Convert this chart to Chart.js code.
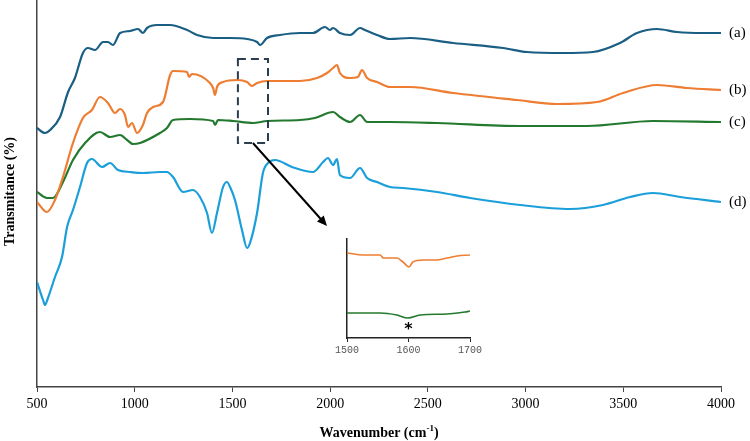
<!DOCTYPE html>
<html>
<head>
<meta charset="utf-8">
<script src="https://cdn.jsdelivr.net/npm/chart.js@4.4.1/dist/chart.umd.min.js"></script>
<style>
  html, body { margin: 0; padding: 0; background: #fff; }
  #wrap { position: relative; width: 750px; height: 441px; }
  #main { position: absolute; left: 0; top: 0; }
  #inset { position: absolute; left: 330px; top: 235px; }
</style>
</head>
<body>
<div id="wrap">
  <canvas id="main" width="750" height="441"></canvas>
  <canvas id="inset" width="160" height="125"></canvas>
</div>
<script>
// ---- Data (wavenumber in cm-1, transmittance in arbitrary offset units) ----
const seriesLabels = ['(a)', '(b)', '(c)', '(d)'];
const xTicks = [500, 1000, 1500, 2000, 2500, 3000, 3500, 4000];

const waveA = [500,541,567,618,659,694,735,761,797,838,863,889,925,976,1017,1042,1063,1114,1181,1268,1319,1401,1488,1575,1626,1641,1677,1743,1846,1912,1974,1999,2015,2050,2102,2153,2178,2240,2306,2409,2629,2885,3007,3192,3345,3483,3570,3673,3775,3908,4000];
const transA = [259,254,257,270,295,309,334,339,337,345,345,342,354,356,358,354,359,362,362,357,352,349,349,348,345,342,349,352,354,354,360,357,359,354,352,359,357,352,348,349,344,339,335,334,335,344,354,358,355,354,354];

const waveB = [500,551,592,633,684,735,781,822,863,899,925,950,966,986,1012,1042,1063,1094,1145,1181,1196,1268,1278,1293,1385,1401,1411,1421,1452,1524,1575,1600,1626,1677,1846,1933,1984,2015,2035,2050,2102,2142,2163,2189,2240,2306,2409,2629,2956,3161,3366,3499,3673,3826,4000];
const transB = [185,175,187,210,244,269,277,290,284,274,278,272,260,264,254,262,274,280,285,312,316,315,310,313,304,299,292,300,305,307,305,301,304,306,306,309,314,319,322,314,309,310,317,309,305,300,300,294,287,283,285,294,302,299,297];

const waveC = [500,551,582,633,684,746,822,874,925,961,991,1027,1129,1165,1196,1283,1401,1411,1426,1503,1605,1677,1846,1922,2015,2050,2102,2153,2189,2306,2547,2972,3314,3652,4000];
const transC = [195,189,189,205,227,244,255,250,252,247,243,244,254,259,267,268,266,262,267,266,264,266,267,269,275,270,265,272,265,265,264,261,261,266,265];

const waveD = [500,531,541,556,592,628,654,684,720,756,781,833,874,914,976,1042,1129,1165,1196,1247,1298,1334,1370,1395,1421,1452,1472,1488,1513,1549,1575,1590,1626,1656,1682,1718,1805,1912,1964,1989,2015,2035,2050,2102,2153,2189,2240,2306,2373,2547,2716,2972,3227,3396,3535,3652,3791,4000];
const transD = [105,87,82,89,110,130,160,177,200,224,228,220,224,217,215,214,215,215,210,195,197,190,174,154,174,200,205,200,187,157,139,144,174,214,224,227,220,215,225,229,222,228,212,209,219,209,205,200,199,195,189,182,178,182,190,194,190,185];

// Inset (1500-1700 cm-1)
const insetTicks = [1500, 1600, 1700];
const insetWaveB = [1500,1526,1537,1554,1559,1581,1591,1601,1607,1624,1646,1663,1679,1700];
const insetTransB = [85,83,83,83,80,80,76,71,76,78,78,80,82,83];
const insetWaveC = [1500,1554,1581,1599,1619,1663,1692,1700];
const insetTransC = [25,25,23,20,23,24,26,27];

// Zoom box region and arrow (data coordinates)
const boxRange = { x0: 1528, x1: 1682, y0: 244, y1: 328 };
const arrowPts = { x0: 1605, y0: 244, x1: 1984, y1: 161 };

const colors = ['#1b5e84', '#ee7d32', '#237a2e', '#1b9fdb'];

function pts(xs, ys) { return xs.map((x, i) => ({ x: x, y: ys[i] })); }

const mainData = [
  pts(waveA, transA), pts(waveB, transB), pts(waveC, transC), pts(waveD, transD)
];

const serif = "'Liberation Serif', 'Times New Roman', serif";

const decorPlugin = {
  id: 'decor',
  afterDatasetsDraw(chart) {
    const ctx = chart.ctx;
    const xs = chart.scales.x, ys = chart.scales.y;
    const area = chart.chartArea;
    ctx.save();
    // series labels at right end
    ctx.fillStyle = '#000';
    ctx.font = '15px ' + serif;
    ctx.textBaseline = 'middle';
    ctx.textAlign = 'left';
    mainData.forEach((d, i) => {
      const last = d[d.length - 1];
      ctx.fillText(seriesLabels[i], area.right + 8, ys.getPixelForValue(last.y));
    });
    // dashed zoom box
    ctx.strokeStyle = '#2b3e4f';
    ctx.lineWidth = 2;
    ctx.setLineDash([8, 5]);
    const bx0 = xs.getPixelForValue(boxRange.x0), bx1 = xs.getPixelForValue(boxRange.x1);
    const by0 = ys.getPixelForValue(boxRange.y1), by1 = ys.getPixelForValue(boxRange.y0);
    ctx.strokeRect(bx0, by0, bx1 - bx0, by1 - by0);
    ctx.setLineDash([]);
    // arrow
    const ax0 = xs.getPixelForValue(arrowPts.x0), ay0 = ys.getPixelForValue(arrowPts.y0);
    const ax1 = xs.getPixelForValue(arrowPts.x1), ay1 = ys.getPixelForValue(arrowPts.y1);
    const ang = Math.atan2(ay1 - ay0, ax1 - ax0);
    ctx.strokeStyle = '#000';
    ctx.lineWidth = 2;
    ctx.beginPath();
    ctx.moveTo(ax0, ay0);
    ctx.lineTo(ax1 - 6 * Math.cos(ang), ay1 - 6 * Math.sin(ang));
    ctx.stroke();
    ctx.fillStyle = '#000';
    ctx.beginPath();
    ctx.moveTo(ax1, ay1);
    ctx.lineTo(ax1 - 10 * Math.cos(ang) + 4.5 * Math.sin(ang), ay1 - 10 * Math.sin(ang) - 4.5 * Math.cos(ang));
    ctx.lineTo(ax1 - 10 * Math.cos(ang) - 4.5 * Math.sin(ang), ay1 - 10 * Math.sin(ang) + 4.5 * Math.cos(ang));
    ctx.closePath();
    ctx.fill();
    // axis titles
    ctx.fillStyle = '#000';
    ctx.font = 'bold 14px ' + serif;
    ctx.textBaseline = 'middle';
    const t1 = 'Wavenumber (cm', sup = '-1', t2 = ')';
    const w1 = ctx.measureText(t1).width;
    ctx.font = 'bold 9px ' + serif;
    const ws = ctx.measureText(sup).width;
    ctx.font = 'bold 14px ' + serif;
    const w2 = ctx.measureText(t2).width;
    const cx = (area.left + area.right) / 2;
    const sx = cx - (w1 + ws + w2) / 2;
    const ty = 433;
    ctx.textAlign = 'left';
    ctx.fillText(t1, sx, ty);
    ctx.font = 'bold 9px ' + serif;
    ctx.fillText(sup, sx + w1, ty - 4);
    ctx.font = 'bold 14px ' + serif;
    ctx.fillText(t2, sx + w1 + ws, ty);
    // y title
    ctx.translate(10, (area.top + area.bottom) / 2 - 2);
    ctx.rotate(-Math.PI / 2);
    ctx.textAlign = 'center';
    ctx.fillText('Transmitance (%)', 0, 0);
    ctx.restore();
  }
};

new Chart(document.getElementById('main'), {
  type: 'line',
  data: {
    datasets: mainData.map((d, i) => ({
      label: seriesLabels[i],
      data: d,
      borderColor: colors[i],
      borderWidth: 2.2,
      pointRadius: 0,
      tension: 0.3,
      cubicInterpolationMode: 'monotone',
      fill: false
    }))
  },
  options: {
    responsive: false,
    animation: false,
    devicePixelRatio: 1,
    layout: { padding: { left: 0, right: 29, top: 0, bottom: 0 } },
    plugins: { legend: { display: false }, tooltip: { enabled: false } },
    scales: {
      x: {
        type: 'linear',
        min: 500, max: 4000,
        afterBuildTicks(scale) { scale.ticks = xTicks.map(v => ({ value: v })); },
        afterFit(scale) { scale.height = 54; },
        ticks: { color: '#000', font: { family: serif, size: 14 }, padding: 4, maxRotation: 0, callback: v => String(v) },
        grid: { display: true, drawOnChartArea: false, drawTicks: true, tickLength: 5, color: '#444', lineWidth: 1 },
        border: { display: true, color: '#444', width: 1.5 }
      },
      y: {
        min: 0, max: 387,
        afterFit(scale) { scale.width = 37; },
        ticks: { display: false },
        grid: { display: false, drawTicks: false },
        border: { display: true, color: '#444', width: 1.5 }
      }
    }
  },
  plugins: [decorPlugin]
});

const insetPlugin = {
  id: 'insetStar',
  afterDatasetsDraw(chart) {
    const ctx = chart.ctx;
    const xs = chart.scales.x, ys = chart.scales.y;
    ctx.save();
    ctx.fillStyle = '#000';
    ctx.font = 'bold 16px ' + "'DejaVu Sans', sans-serif";
    ctx.textAlign = 'center';
    ctx.textBaseline = 'middle';
    ctx.fillText('*', xs.getPixelForValue(1600), ys.getPixelForValue(8));
    ctx.restore();
  }
};

new Chart(document.getElementById('inset'), {
  type: 'line',
  data: {
    datasets: [
      { data: pts(insetWaveB, insetTransB), borderColor: colors[1], borderWidth: 1.6, pointRadius: 0, tension: 0.3, cubicInterpolationMode: 'monotone' },
      { data: pts(insetWaveC, insetTransC), borderColor: colors[2], borderWidth: 1.6, pointRadius: 0, tension: 0.3, cubicInterpolationMode: 'monotone' }
    ]
  },
  options: {
    responsive: false,
    animation: false,
    devicePixelRatio: 1,
    layout: { padding: { left: 0, right: 20, top: 4, bottom: 0 } },
    plugins: { legend: { display: false }, tooltip: { enabled: false } },
    scales: {
      x: {
        type: 'linear',
        min: 1500, max: 1700,
        afterBuildTicks(scale) { scale.ticks = insetTicks.map(v => ({ value: v })); },
        afterFit(scale) { scale.height = 22; },
        ticks: { color: '#555', font: { family: "'Liberation Mono', monospace", size: 10 }, padding: 2, maxRotation: 0, callback: v => String(v) },
        grid: { display: true, drawOnChartArea: false, drawTicks: true, tickLength: 4, color: '#222', lineWidth: 1 },
        border: { display: true, color: '#222', width: 1.5 }
      },
      y: {
        min: 0, max: 99,
        afterFit(scale) { scale.width = 17; },
        ticks: { display: false },
        grid: { display: false, drawTicks: false },
        border: { display: true, color: '#222', width: 1.5 }
      }
    }
  },
  plugins: [insetPlugin]
});
</script>
</body>
</html>
